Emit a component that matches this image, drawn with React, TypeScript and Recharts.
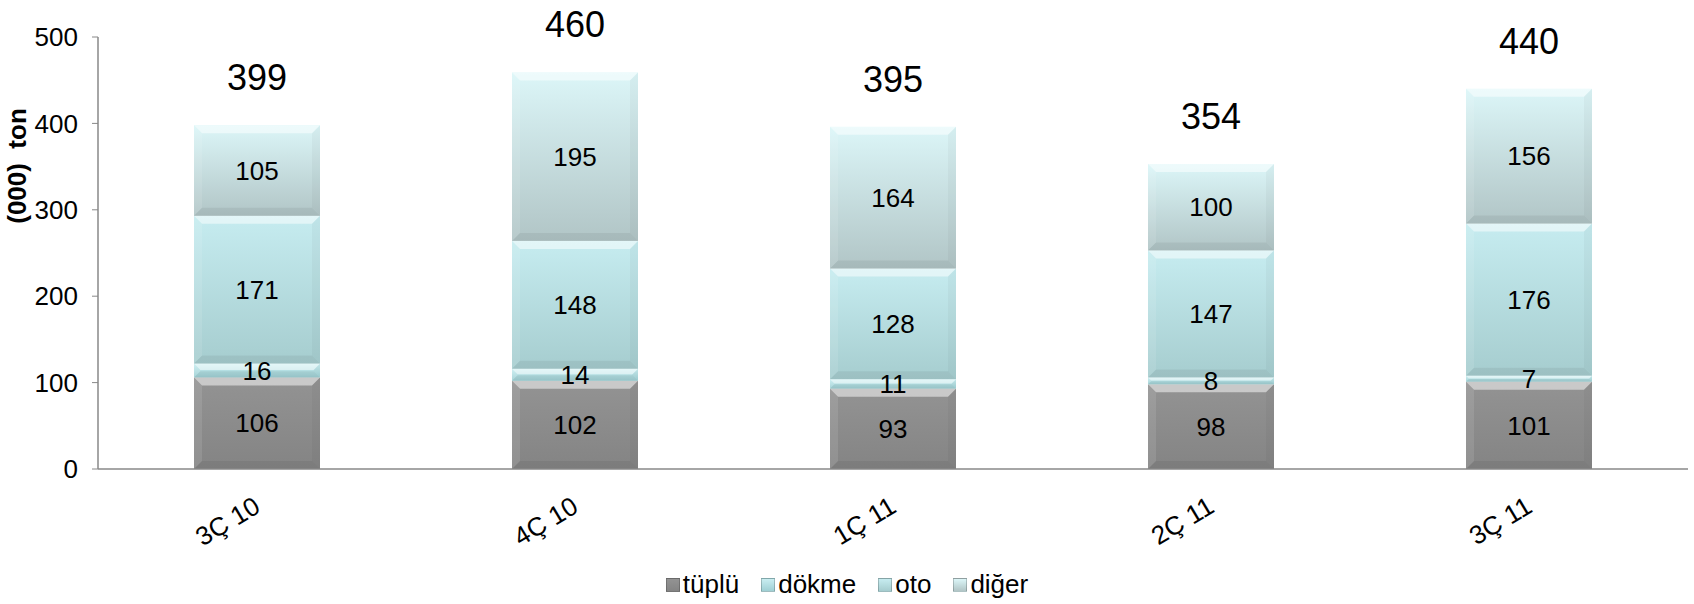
import { BarChart, Bar, XAxis, YAxis, LabelList } from "recharts";

const categories = ["3Ç 10", "4Ç 10", "1Ç 11", "2Ç 11", "3Ç 11"];
const tuplu = [106, 102, 93, 98, 101];
const dokme = [16, 14, 11, 8, 7];
const oto = [171, 148, 128, 147, 176];
const diger = [105, 195, 164, 100, 156];
const totals = [399, 460, 395, 354, 440];
const yTicks = [0, 100, 200, 300, 400, 500];

const data = categories.map((name, i) => ({
  name,
  tuplu: tuplu[i],
  dokme: dokme[i],
  oto: oto[i],
  diger: diger[i],
  total: totals[i],
}));

const FONT = "'Liberation Sans', Arial, sans-serif";

const series = [
  { key: "tuplu", name: "tüplü", top: "#939393", bottom: "#848484" },
  { key: "dokme", name: "dökme", top: "#c9eef1", bottom: "#9fd0d4" },
  { key: "oto", name: "oto", top: "#c6ecf0", bottom: "#a6cdcf" },
  { key: "diger", name: "diğer", top: "#dcf6f8", bottom: "#b1c5c6" },
];

/* ── beveled segment, like the old Excel soft-edge bars ───────────────── */
function BevelBar(props: any) {
  const { x, y, width: w, height: h, gradId } = props;
  if (!h || h <= 0) return null;
  const b = Math.min(8, h / 2.2);
  return (
    <g>
      <rect x={x} y={y} width={w} height={h} fill={`url(#${gradId})`} />
      <polygon
        points={`${x},${y} ${x + w},${y} ${x + w - b},${y + b} ${x + b},${y + b}`}
        fill="#ffffff"
        fillOpacity={0.5}
      />
      <polygon
        points={`${x},${y} ${x + b},${y + b} ${x + b},${y + h - b} ${x},${y + h}`}
        fill="#ffffff"
        fillOpacity={0.1}
      />
      <polygon
        points={`${x + w},${y} ${x + w},${y + h} ${x + w - b},${y + h - b} ${x + w - b},${y + b}`}
        fill="#000000"
        fillOpacity={0.03}
      />
      <polygon
        points={`${x},${y + h} ${x + w},${y + h} ${x + w - b},${y + h - b} ${x + b},${y + h - b}`}
        fill="#000000"
        fillOpacity={0.06}
      />
    </g>
  );
}

function XTick({ x, y, payload }: any) {
  return (
    <g transform={`translate(${x},${y})`}>
      <text
        x={5}
        y={34}
        textAnchor="end"
        transform="rotate(-31 5 34)"
        fontSize={26}
        fontFamily={FONT}
        fill="#000"
      >
        {payload.value}
      </text>
    </g>
  );
}

function TotalLabel({ x, y, width, value }: any) {
  return (
    <text
      x={x + width / 2}
      y={y - 35}
      textAnchor="middle"
      fontSize={36}
      fontFamily={FONT}
      fill="#000"
    >
      {value}
    </text>
  );
}

function Legend() {
  return (
    <div
      style={{
        position: "absolute",
        top: 569,
        left: 0,
        width: 1694,
        display: "flex",
        justifyContent: "center",
        gap: 22,
        fontFamily: FONT,
        fontSize: 26,
      }}
    >
      {series.map((s) => (
        <div key={s.key} style={{ display: "flex", alignItems: "center" }}>
          <span
            style={{
              width: 14,
              height: 14,
              marginRight: 3,
              background: `linear-gradient(${s.top}, ${s.bottom})`,
              border: "1px solid rgba(0,0,0,0.2)",
              boxSizing: "border-box",
            }}
          />
          {s.name}
        </div>
      ))}
    </div>
  );
}

export default function App() {
  return (
    <div style={{ position: "absolute", left: 0, top: 0, width: 1694, height: 604, background: "#fff" }}>
      <BarChart
        width={1694}
        height={604}
        data={data}
        margin={{ top: 37, right: 6, left: 0, bottom: 0 }}
      >
        <defs>
          {series.map((s) => (
            <linearGradient key={s.key} id={`g-${s.key}`} x1="0" y1="0" x2="0" y2="1">
              <stop offset="0%" stopColor={s.top} />
              <stop offset="100%" stopColor={s.bottom} />
            </linearGradient>
          ))}
        </defs>
        <XAxis
          dataKey="name"
          height={135}
          tick={<XTick />}
          tickLine={false}
          axisLine={{ stroke: "#888888", strokeWidth: 1.5 }}
          interval={0}
        />
        <YAxis
          width={98}
          domain={[0, 500]}
          ticks={yTicks}
          interval={0}
          tickSize={6}
          tickMargin={14}
          tick={{ fontSize: 26, fill: "#000", fontFamily: FONT }}
          tickLine={{ stroke: "#888888" }}
          axisLine={{ stroke: "#888888", strokeWidth: 1.5 }}
          label={{
            content: () => (
              <text
                x={26}
                y={166}
                textAnchor="middle"
                transform="rotate(-90 26 166)"
                fontSize={26}
                fontWeight="bold"
                fontFamily={FONT}
                fill="#000"
                style={{ whiteSpace: "pre" }}
              >
                (000)  ton
              </text>
            ),
          }}
        />
        {series.map((s, i) => (
          <Bar
            key={s.key}
            dataKey={s.key}
            name={s.name}
            stackId="a"
            barSize={126}
            isAnimationActive={false}
            shape={(p: any) => <BevelBar {...p} gradId={`g-${s.key}`} />}
          >
            <LabelList
              dataKey={s.key}
              position="center"
              fontSize={26}
              fontFamily={FONT}
              fill="#000"
            />
            {i === series.length - 1 && (
              <LabelList dataKey="total" content={<TotalLabel />} />
            )}
          </Bar>
        ))}
      </BarChart>
      <Legend />
    </div>
  );
}
